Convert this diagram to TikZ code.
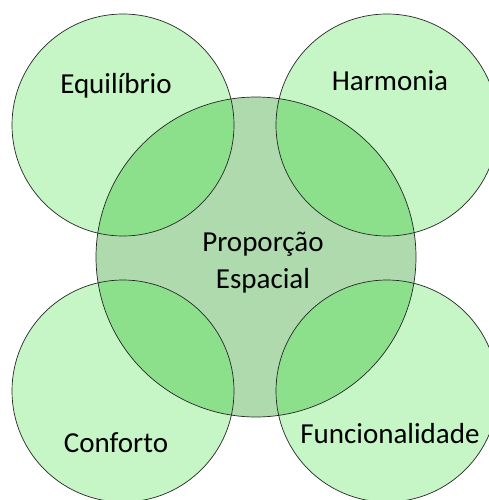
\documentclass[tikz,border=0pt]{standalone}
\usepackage{fontspec}
\setmainfont{Carlito}
\definecolor{outergreen}{HTML}{C6F5C6}
\definecolor{innergreen}{HTML}{AEDAAE}
\definecolor{overlapgreen}{HTML}{8CE08C}
\begin{document}
\begin{tikzpicture}[x=1pt, y=-1pt, font=\fontsize{29}{37}\selectfont]
        \useasboundingbox (0,0) rectangle (488,500);
        % Central circle
        \node [circle, fill=innergreen, inner sep=0pt, minimum size=320pt] (center) at (256,257) {};
        % Outer circles
        \foreach \n/\x/\y in {equilibrio/123/125, harmonia/387/125, conforto/123/391, funcionalidade/387/391} \node [circle, fill=outergreen, inner sep=0pt, minimum size=222pt] (\n) at (\x,\y) {};
        % Overlaps with the central circle
        \foreach \n in {equilibrio, harmonia, conforto, funcionalidade} {
            \begin{scope}
                \clip (\n.center) circle (111pt);
                \fill [overlapgreen] (center.center) circle (160pt);
            \end{scope}
        }
        % Outlines
        \foreach \n/\r in {center/160, equilibrio/111, harmonia/111, conforto/111, funcionalidade/111} \draw [black!85, line width=0.7pt] (\n.center) circle (\r pt);
        % Labels
        \node (equilibrio-label) at (116,86) {Equilíbrio};
        \node (harmonia-label) at (390,81) {Harmonia};
        \node [align=center] (center-label) at (263,263) {Proporção\\Espacial};
        \node (conforto-label) at (116,443) {Conforto};
        \node (funcionalidade-label) at (390,434) {Funcionalidade};
    \end{tikzpicture}
\end{document}
